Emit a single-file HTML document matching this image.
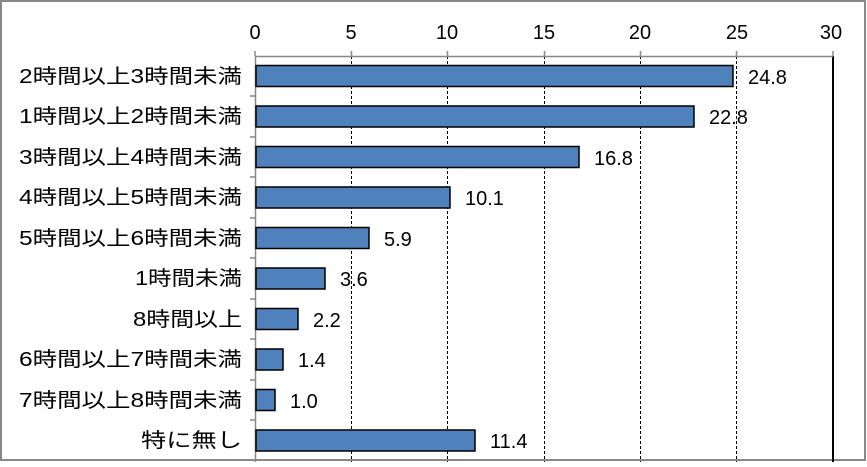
<!DOCTYPE html><html><head><style>body{margin:0}svg text{font-family:"Liberation Sans","Noto Sans CJK JP",sans-serif;font-size:20px;fill:#000}</style></head><body>
<svg width="867" height="462" xmlns="http://www.w3.org/2000/svg">
<rect x="0" y="0" width="867" height="462" fill="#fff"/>
<rect x="1" y="1" width="864" height="459" fill="none" stroke="#888" stroke-width="2"/>
<g stroke="#000" stroke-width="1" stroke-dasharray="3,2">
<line x1="351.5" y1="56" x2="351.5" y2="462"/><line x1="447.5" y1="56" x2="447.5" y2="462"/><line x1="544.5" y1="56" x2="544.5" y2="462"/><line x1="640.5" y1="56" x2="640.5" y2="462"/><line x1="736.5" y1="56" x2="736.5" y2="462"/></g>
<line x1="833" y1="56" x2="833" y2="462" stroke="#000" stroke-width="2"/>
<line x1="255.5" y1="56" x2="255.5" y2="462" stroke="#888" stroke-width="1.5"/>
<line x1="255" y1="56.5" x2="833" y2="56.5" stroke="#888" stroke-width="1.5"/>
<g stroke="#888" stroke-width="1.5">
<line x1="250" y1="96" x2="255" y2="96"/><line x1="250" y1="137" x2="255" y2="137"/><line x1="250" y1="177" x2="255" y2="177"/><line x1="250" y1="218" x2="255" y2="218"/><line x1="250" y1="258" x2="255" y2="258"/><line x1="250" y1="299" x2="255" y2="299"/><line x1="250" y1="339" x2="255" y2="339"/><line x1="250" y1="380" x2="255" y2="380"/><line x1="250" y1="420" x2="255" y2="420"/>
<line x1="255" y1="51" x2="255" y2="56"/><line x1="351.5" y1="51" x2="351.5" y2="56"/><line x1="447.5" y1="51" x2="447.5" y2="56"/><line x1="544.5" y1="51" x2="544.5" y2="56"/><line x1="640.5" y1="51" x2="640.5" y2="56"/><line x1="736.5" y1="51" x2="736.5" y2="56"/><line x1="833" y1="51" x2="833" y2="56"/></g>
<g text-anchor="middle" style="font-size:22px"><text x="255" y="39">0</text><text x="351" y="39">5</text><text x="447" y="39">10</text><text x="544" y="39">15</text><text x="640" y="39">20</text><text x="737" y="39">25</text><text x="831" y="39">30</text></g>
<g fill="#4f81bd" stroke="#000" stroke-width="1.5">
<rect x="256" y="65.5" width="477" height="21"/>
<rect x="256" y="106" width="438" height="21"/>
<rect x="256" y="146.5" width="323" height="21"/>
<rect x="256" y="187" width="194" height="21"/>
<rect x="256" y="227.5" width="113" height="21"/>
<rect x="256" y="268" width="69" height="21"/>
<rect x="256" y="308.5" width="42" height="21"/>
<rect x="256" y="349" width="27" height="21"/>
<rect x="256" y="389.5" width="19" height="21"/>
<rect x="256" y="430" width="219" height="21"/></g>
<g style="font-size:21px">
<text x="19" y="83" textLength="223" lengthAdjust="spacingAndGlyphs">2時間以上3時間未満</text>
<text x="19" y="123" textLength="223" lengthAdjust="spacingAndGlyphs">1時間以上2時間未満</text>
<text x="19" y="164" textLength="223" lengthAdjust="spacingAndGlyphs">3時間以上4時間未満</text>
<text x="19" y="204" textLength="223" lengthAdjust="spacingAndGlyphs">4時間以上5時間未満</text>
<text x="19" y="245" textLength="223" lengthAdjust="spacingAndGlyphs">5時間以上6時間未満</text>
<text x="135" y="285" textLength="107" lengthAdjust="spacingAndGlyphs">1時間未満</text>
<text x="133" y="326" textLength="109" lengthAdjust="spacingAndGlyphs">8時間以上</text>
<text x="19" y="366" textLength="223" lengthAdjust="spacingAndGlyphs">6時間以上7時間未満</text>
<text x="19" y="407" textLength="223" lengthAdjust="spacingAndGlyphs">7時間以上8時間未満</text>
<text x="141" y="447" textLength="101" lengthAdjust="spacingAndGlyphs">特に無し</text></g>
<g style="font-size:21px">
<text x="748" y="84">24.8</text><text x="709" y="124">22.8</text><text x="594" y="165">16.8</text><text x="465" y="205">10.1</text><text x="384" y="246">5.9</text><text x="340" y="286">3.6</text><text x="313" y="327">2.2</text><text x="298" y="367">1.4</text><text x="290" y="408">1.0</text><text x="490" y="448">11.4</text></g>
</svg></body></html>
